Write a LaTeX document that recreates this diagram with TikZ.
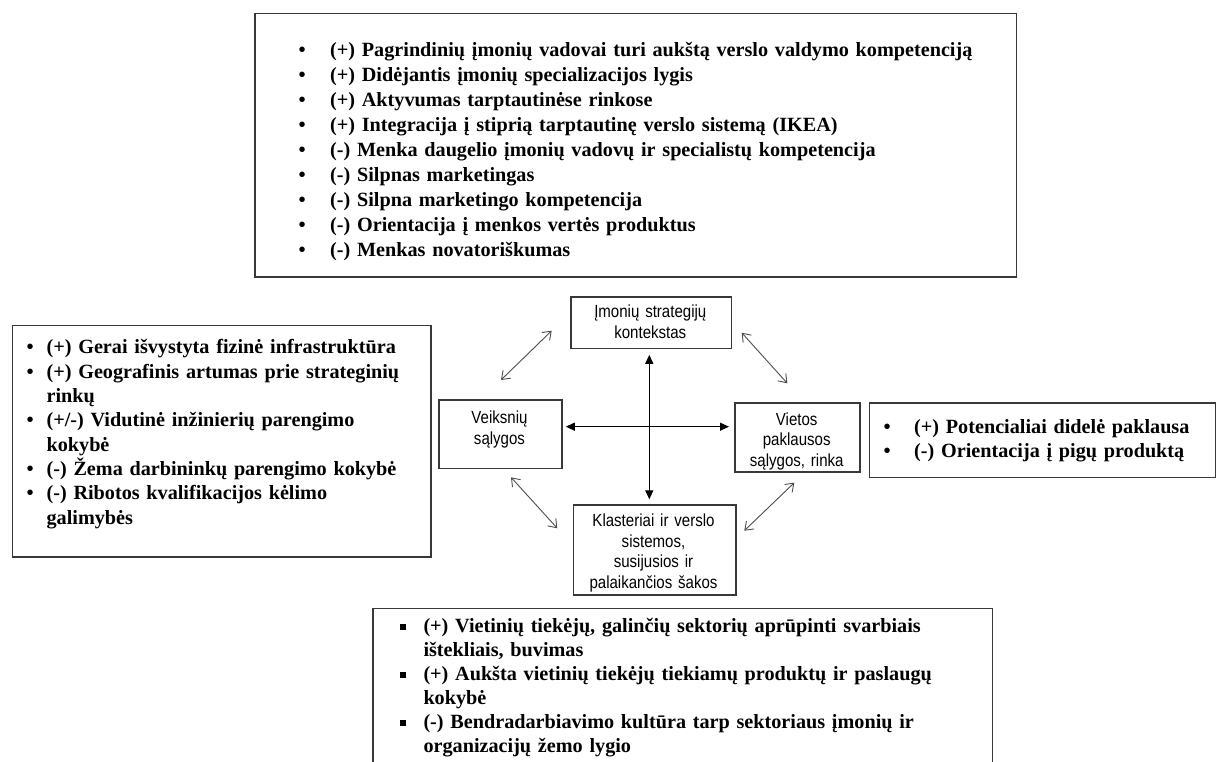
\documentclass[tikz,border=0pt]{standalone}
\usepackage{fontspec}
\setmainfont{Liberation Serif}
\newfontfamily\boxfont{Liberation Sans}[FakeStretch=0.86]
\usetikzlibrary{arrows.meta}

% hanging list entries with a marker in front
\newlength\bulletgap
\newcommand\entry[2][\textbullet]{\par\noindent\hangindent=\bulletgap\hangafter=1\makebox[\bulletgap][l]{#1}#2\par}
\newcommand\sqmark{\rule[2.5pt]{6pt}{6pt}}

\tikzset{
  frame/.style={draw=black!78, line width=1.5pt, inner sep=0pt, anchor=north west},
  listtext/.style={anchor=north west, inner sep=0pt, text width=700pt, align=left,
    font=\bfseries\fontsize{20.2pt}{#1}\selectfont},
  boxtext/.style={anchor=north, inner sep=0pt, text width=170pt, align=center,
    font=\boxfont\fontsize{17.5pt}{20.4pt}\selectfont},
  crossarrow/.style={line width=1.3pt, {Triangle[length=9pt,width=8pt]}-{Triangle[length=9pt,width=8pt]}},
  diagarrow/.style={draw=black!70, line width=0.9pt, {Straight Barb[length=7.5pt,width=11pt]}-{Straight Barb[length=7.5pt,width=11pt]}},
}

\begin{document}
\begin{tikzpicture}[x=1pt,y=-1pt]
\useasboundingbox (0,0) rectangle (1216,762);
\clip (0,0) rectangle (1216,762);

% outer boxes with the lists
\node[frame, minimum width=761.5pt, minimum height=263.5pt] (ctxbox) at (254.2,12.7) {};
\node[frame, minimum width=418.3pt, minimum height=231.5pt] (factbox) at (11.7,324.5) {};
\node[frame, minimum width=346pt, minimum height=74.5pt] (demandbox) at (868.5,402) {};
\node[frame, minimum width=619.5pt, minimum height=200pt] (supplybox) at (372,607.5) {};

\node[listtext=25pt] (ctxlist) at (298.4,31) {\setlength\bulletgap{31.6pt}%
  \entry{\rule{0pt}{16pt}(+) Pagrindinių įmonių vadovai turi aukštą verslo valdymo kompetenciją}
  \entry{(+) Didėjantis įmonių specializacijos lygis}
  \entry{(+) Aktyvumas tarptautinėse rinkose}
  \entry{(+) Integracija į stiprią tarptautinę verslo sistemą (IKEA)}
  \entry{(-) Menka daugelio įmonių vadovų ir specialistų kompetencija}
  \entry{(-) Silpnas marketingas}
  \entry{(-) Silpna marketingo kompetencija}
  \entry{(-) Orientacija į menkos vertės produktus}
  \entry{(-) Menkas novatoriškumas}};

\node[listtext=24.4pt] (factlist) at (26.4,329) {\setlength\bulletgap{20pt}%
  \entry{\rule{0pt}{16pt}(+) Gerai išvystyta fizinė infrastruktūra}
  \entry{(+) Geografinis artumas prie strateginių\newline rinkų}
  \entry{(+/-) Vidutinė inžinierių parengimo\newline kokybė}
  \entry{(-) Žema darbininkų parengimo kokybė}
  \entry{(-) Ribotos kvalifikacijos kėlimo\newline galimybės}};

\node[listtext=24.5pt] (demandlist) at (883.4,408.5) {\setlength\bulletgap{30.6pt}%
  \entry{\rule{0pt}{16pt}(+) Potencialiai didelė paklausa}
  \entry{(-) Orientacija į pigų produktą}};

\node[listtext=24pt] (supplylist) at (400,608.5) {\setlength\bulletgap{23.3pt}%
  \entry[\sqmark]{\rule{0pt}{16pt}(+) Vietinių tiekėjų, galinčių sektorių aprūpinti svarbiais\newline ištekliais, buvimas}
  \entry[\sqmark]{(+) Aukšta vietinių tiekėjų tiekiamų produktų ir paslaugų\newline kokybė}
  \entry[\sqmark]{(-) Bendradarbiavimo kultūra tarp sektoriaus įmonių ir\newline organizacijų žemo lygio}};

% the four determinants
\node[frame, minimum width=160.7pt, minimum height=51.7pt] (imon) at (570,296) {};
\node[frame, minimum width=122.7pt, minimum height=68.7pt] (veik) at (438.3,399) {};
\node[frame, minimum width=124.7pt, minimum height=68.7pt] (viet) at (734.3,402.3) {};
\node[frame, minimum width=162.3pt, minimum height=90pt] (klast) at (572.7,504.3) {};

\node[boxtext] (imontext) at (650.3,303.5) {\rule{0pt}{14pt}Įmonių strategijų\\kontekstas};
\node[boxtext] (veiktext) at (499.5,409.7) {\rule{0pt}{14pt}Veiksnių\\sąlygos};
\node[boxtext] (viettext) at (796.7,411) {\rule{0pt}{14pt}Vietos\\paklausos\\sąlygos, rinka};
\node[boxtext] (klasttext) at (653.5,512.7) {\rule{0pt}{14pt}Klasteriai ir verslo\\sistemos,\\susijusios ir\\palaikančios šakos};

% links between the determinants
\coordinate (hub) at (649.3,426.7);
\draw[crossarrow, shorten <=5.6pt, shorten >=5pt] (hub |- imon.south) -- (hub |- klast.north);
\draw[crossarrow, shorten <=3.3pt, shorten >=5.3pt] (hub -| veik.east) -- (hub -| viet.west);

\coordinate (tlA) at (501,380);   \coordinate (tlB) at (551.7,330.7);
\coordinate (trA) at (741.7,332.7); \coordinate (trB) at (787.3,383.3);
\coordinate (blA) at (511,477.3); \coordinate (blB) at (557.3,528.3);
\coordinate (brA) at (744.3,530.7); \coordinate (brB) at (794.3,482.7);
\draw[diagarrow] (tlA) -- (tlB);
\draw[diagarrow] (trA) -- (trB);
\draw[diagarrow] (blA) -- (blB);
\draw[diagarrow] (brA) -- (brB);
\end{tikzpicture}
\end{document}
